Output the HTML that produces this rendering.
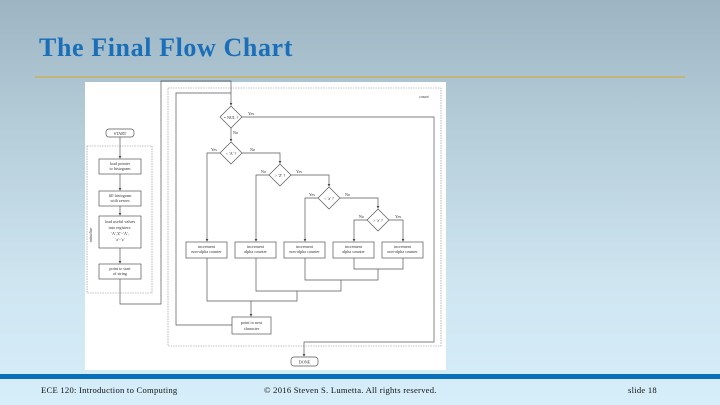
<!DOCTYPE html>
<html><head><style>
html,body{margin:0;padding:0}
body{width:720px;height:405px;overflow:hidden;position:relative;background:linear-gradient(#9db4c2 0%,#b4ccd8 30%,#cfe6f1 70%,#d6eefa 100%);font-family:"Liberation Serif",serif}
.t{position:absolute;left:39px;top:33px;font-size:26px;color:#1a6fb8;font-weight:bold;letter-spacing:0.6px;white-space:nowrap}
.gl{position:absolute;left:35px;top:76px;width:650px;height:2px;background:#c2b47a}
.bar{position:absolute;left:0;top:374px;width:720px;height:5px;background:#0a6fba}
.ft{position:absolute;top:385px;font-size:8.6px;color:#111;letter-spacing:0.25px;white-space:nowrap}
</style></head><body>
<div class="t">The Final Flow Chart</div>
<div class="gl"></div>
<svg style="position:absolute;left:0;top:0" width="720" height="405" font-family="Liberation Serif,serif" font-size="4.2" text-anchor="middle">
<defs><marker id="a" markerWidth="4" markerHeight="4" refX="3" refY="2" orient="auto"><path d="M0,0L4,2L0,4z" fill="#444"/></marker></defs>
<rect x="85" y="82" width="361" height="288" fill="#fff"/>
<g fill="none" stroke="#888" stroke-width="0.6" stroke-dasharray="1.5,1">
<rect x="87" y="146" width="65" height="147"/>
<rect x="168" y="88" width="273" height="258"/>
</g>
<g fill="none" stroke="#555" stroke-width="0.7">
<path d="M120,137V158" marker-end="url(#a)"/>
<path d="M120,174V190" marker-end="url(#a)"/>
<path d="M120,206V215" marker-end="url(#a)"/>
<path d="M120,248V263" marker-end="url(#a)"/>
<path d="M120,279V304H161V81H231V105" marker-end="url(#a)"/>
<path d="M232,325H176V93H231"/>
<path d="M242,117H434V342H304V356" marker-end="url(#a)"/>
<path d="M231,128V141" marker-end="url(#a)"/>
<path d="M220,153H207V241" marker-end="url(#a)"/>
<path d="M242,153H280V163" marker-end="url(#a)"/>
<path d="M269,175H256V241" marker-end="url(#a)"/>
<path d="M291,175H329V186" marker-end="url(#a)"/>
<path d="M318,198H305V241" marker-end="url(#a)"/>
<path d="M340,198H378V208" marker-end="url(#a)"/>
<path d="M367,220H354V241" marker-end="url(#a)"/>
<path d="M389,220H403V241" marker-end="url(#a)"/>
<path d="M354,258V269H403V258M378,269V280H305V258M341,280V291H256V258M297,291V301H207V258M251,301V316" marker-end="url(#a)"/>
<rect x="99" y="159" width="42" height="15"/>
<rect x="99" y="191" width="42" height="15"/>
<rect x="99" y="216" width="42" height="32"/>
<rect x="99" y="264" width="42" height="15"/>
<rect x="106" y="129" width="28" height="8" rx="3"/>
<rect x="291" y="357" width="27" height="9" rx="3"/>
<rect x="232" y="317" width="39" height="17"/>
<rect x="186" y="242" width="41" height="16"/><rect x="235" y="242" width="41" height="16"/><rect x="284" y="242" width="41" height="16"/><rect x="333" y="242" width="41" height="16"/><rect x="382" y="242" width="41" height="16"/>
<path d="M231,106L242,117L231,128L220,117z"/>
<path d="M231,142L242,153L231,164L220,153z"/>
<path d="M280,164L291,175L280,186L269,175z"/>
<path d="M329,187L340,198L329,209L318,198z"/>
<path d="M378,209L389,220L378,231L367,220z"/>
</g>
<g fill="#333">
<text x="120" y="135">START</text><text x="304.5" y="363.5">DONE</text>
<text x="120" y="165">load pointer</text><text x="120" y="170">to histogram</text>
<text x="120" y="197">fill histogram</text><text x="120" y="202">with zeroes</text>
<text x="120" y="223">load useful values</text><text x="120" y="229">into registers:</text><text x="120" y="235">'A','Z'−'A',</text><text x="120" y="241">'a'−'z'</text>
<text x="120" y="270">point to start</text><text x="120" y="275">of string</text>
<text x="251.5" y="324">point to next</text><text x="251.5" y="330">character</text>
<text x="231" y="119">= NUL ?</text><text x="231" y="155">&lt; 'A' ?</text><text x="280" y="177">&gt; 'Z' ?</text><text x="329" y="200">&lt; 'a' ?</text><text x="378" y="222">&gt; 'z' ?</text>
<text x="206.5" y="248">increment</text><text x="206.5" y="253">non-alpha counter</text>
<text x="255.5" y="248">increment</text><text x="255.5" y="253">alpha counter</text>
<text x="304.5" y="248">increment</text><text x="304.5" y="253">non-alpha counter</text>
<text x="353.5" y="248">increment</text><text x="353.5" y="253">alpha counter</text>
<text x="402.5" y="248">increment</text><text x="402.5" y="253">non-alpha counter</text>
<g text-anchor="start"><text x="248" y="115">Yes</text><text x="233" y="134">No</text><text x="250" y="151">No</text><text x="296" y="173">Yes</text><text x="345" y="196">No</text><text x="395" y="218">Yes</text></g>
<g text-anchor="end"><text x="217" y="151">Yes</text><text x="266" y="173">No</text><text x="315" y="196">Yes</text><text x="364" y="218">No</text></g>
<text x="424" y="98" font-style="italic">count</text>
<text x="0" y="0" font-style="italic" transform="translate(92,235) rotate(-90)">initialize</text>
</g>
</svg>
<div class="bar"></div>
<div class="ft" style="left:41px">ECE 120: Introduction to Computing</div>
<div class="ft" style="left:264px">© 2016 Steven S. Lumetta.  All rights reserved.</div>
<div class="ft" style="left:628px">slide 18</div>
</body></html>
